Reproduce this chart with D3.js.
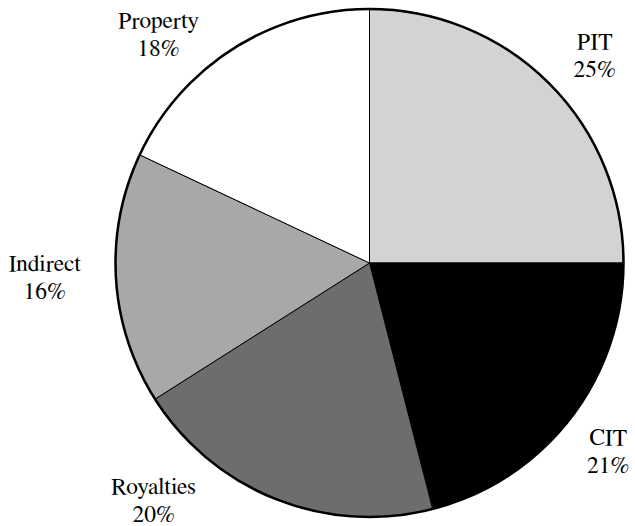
<!DOCTYPE html>
<html>
<head>
<meta charset="utf-8">
<script src="https://cdn.jsdelivr.net/npm/d3@7"></script>
<style>
  html, body { margin: 0; padding: 0; background: #fff; }
  svg { display: block; }
</style>
</head>
<body>
<svg id="chart" width="635" height="526"></svg>
<script>
// Revenue composition by tax type (share of total, %)
const categories = ["PIT", "CIT", "Royalties", "Indirect", "Property"];
const shares = [25, 21, 20, 16, 18];
const fills = ["#d3d3d3", "#000000", "#6d6d6d", "#a8a8a8", "#ffffff"];

const width = 635, height = 526;
const cx = 369.5, cy = 263, radius = 254;
const labelFont = "FreeSerif, 'Liberation Serif', 'Times New Roman', serif";

const svg = d3.select("#chart");
const g = svg.append("g").attr("transform", `translate(${cx},${cy})`);

const data = categories.map((c, i) => ({ category: c, value: shares[i], fill: fills[i] }));

const pie = d3.pie().sort(null).value(d => d.value).startAngle(0).endAngle(2 * Math.PI);
const arcs = pie(data);

const arc = d3.arc().innerRadius(0).outerRadius(radius);

g.selectAll("path.slice")
  .data(arcs)
  .join("path")
  .attr("class", "slice")
  .attr("d", arc)
  .attr("fill", d => d.data.fill)
  .attr("stroke", "#000")
  .attr("stroke-width", 1);

// heavier outline around the whole pie
g.append("circle")
  .attr("r", radius)
  .attr("fill", "none")
  .attr("stroke", "#000")
  .attr("stroke-width", 2.5);

// label placement: mid-angle of each slice, pushed outside the rim,
// with small angular nudges so labels clear the pie edge
const labelNudge = { PIT: 2, CIT: 0, Royalties: 21, Indirect: 1.5, Property: -10 };
const labelRadius = { PIT: 308, CIT: 302, Royalties: 319, Indirect: 325, Property: 313 };
const lineGap = 28;

arcs.forEach(d => {
  const name = d.data.category;
  const mid = (d.startAngle + d.endAngle) / 2 + (labelNudge[name] || 0) * Math.PI / 180;
  const r = labelRadius[name];
  const x = r * Math.sin(mid);
  const y = -r * Math.cos(mid);
  const t = g.append("text")
    .attr("text-anchor", "middle")
    .attr("font-family", labelFont)
    .attr("font-size", 23.5)
    .attr("fill", "#000")
    .attr("x", x)
    .attr("y", y);
  t.append("tspan").attr("x", x).attr("dy", "-0.15em").text(name);
  t.append("tspan").attr("x", x).attr("dy", lineGap).text(d.data.value + "%");
});
</script>
</body>
</html>
